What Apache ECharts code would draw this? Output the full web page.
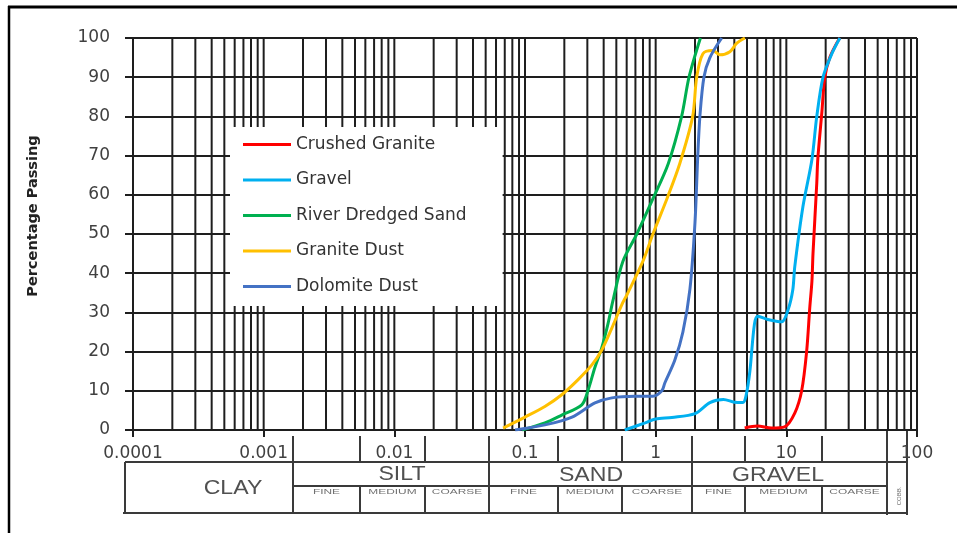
<!DOCTYPE html>
<html>
<head>
<meta charset="utf-8">
<script src="https://cdn.jsdelivr.net/npm/echarts@6/dist/echarts.min.js"></script>
<style>
  html, body { margin: 0; padding: 0; background: #fff; }
  #chart { width: 957px; height: 533px; }
</style>
</head>
<body>
<div id="chart"></div>
<script>
// Particle size distribution curves: [grain size (mm), percentage passing]
const seriesNames = ['Crushed Granite', 'Gravel', 'River Dredged Sand', 'Granite Dust', 'Dolomite Dust'];
const seriesColors = ['#ff0000', '#00b0f0', '#00b050', '#ffc000', '#4472c4'];

const crushedGranite = [[4.8,0.5],[6.0,1.0],[7.7,0.5],[9.7,0.8],[11.6,4.3],[13.1,10],[14.3,20],[15.1,31],[15.7,38],[16.0,45],[17.1,63],[17.4,69],[18.7,81],[19.7,90],[21.5,95],[24.3,98.7],[25.7,100]];
const gravel = [[0.58,0],[0.83,1.8],[1.0,2.8],[1.33,3.2],[2.0,4.2],[2.6,7],[3.3,7.8],[4.0,7.1],[4.65,7.0],[4.9,8.5],[5.26,15],[5.7,27],[6.05,29],[7.2,28.2],[9.2,27.6],[10.3,30.6],[11.2,35.7],[11.6,41.6],[13.4,57],[15.7,69],[17.1,80],[19.1,90],[22.3,96],[25.7,100]];
const riverDredgedSand = [[0.095,0],[0.142,1.8],[0.191,3.8],[0.272,6.4],[0.303,10],[0.343,16],[0.387,21],[0.431,27],[0.471,33],[0.561,43],[0.718,50],[0.953,59],[1.25,68],[1.58,80],[1.8,90],[2.2,100]];
const graniteDust = [[0.068,0.5],[0.1,3.3],[0.142,6],[0.191,9],[0.254,12.8],[0.325,16.6],[0.387,20.4],[0.462,26],[0.551,32],[0.603,34.5],[0.798,43],[0.953,50],[1.22,59],[1.53,68],[1.92,80],[2.06,90],[2.3,96],[2.74,96.8],[3.1,95.7],[3.7,96.5],[4.18,98.7],[4.82,100]];
const dolomiteDust = [[0.084,0],[0.142,1.3],[0.229,3.3],[0.343,6.9],[0.462,8.2],[0.693,8.6],[0.95,8.6],[1.115,10],[1.175,12],[1.40,17.8],[1.616,25],[1.83,36],[2.0,53],[2.1,70],[2.18,80],[2.34,90],[2.6,95],[3.2,100]];

const xTickLabels = ['0.0001', '0.001', '0.01', '0.1', '1', '10', '100'];
const yAxisTitle = 'Percentage Passing';

// Soil classification band under the axis
const mainClasses = ['CLAY', 'SILT', 'SAND', 'GRAVEL'];
const subClasses = ['FINE', 'MEDIUM', 'COARSE'];
const cobbleLabel = 'COBB.';

const allSeries = [crushedGranite, gravel, riverDredgedSand, graniteDust, dolomiteDust];

// Logarithmic grid: 1..9 x each decade from 1e-4 to 100
const gridValues = [];
for (let d = -4; d <= 1; d++) {
  for (let k = 1; k <= 9; k++) gridValues.push(parseFloat((k * Math.pow(10, d)).toPrecision(3)));
}
gridValues.push(100);

const chart = echarts.init(document.getElementById('chart'));

const lineCol = '#1e1e1e';
const tableCol = '#3a3a3a';
const FONT = 'DejaVu Sans';

// Classification table drawing (pixel layout)
const G = [];
function hLine(x1, x2, y) { G.push({ type: 'line', shape: { x1, y1: y, x2, y2: y }, style: { stroke: tableCol, lineWidth: 2 }, silent: true }); }
function vLine(x, y1, y2) { G.push({ type: 'line', shape: { x1: x, y1, x2: x, y2 }, style: { stroke: tableCol, lineWidth: 2 }, silent: true }); }
function label(text, x, y, size, color, sx, rot) {
  G.push({ type: 'text', x, y, scaleX: sx || 1, rotation: rot || 0, silent: true,
    style: { text, fontFamily: 'Liberation Sans', fontSize: size, fill: color, align: 'center', verticalAlign: 'middle' } });
}
// frame
G.push({ type: 'line', shape: { x1: 8, y1: 7, x2: 957, y2: 7 }, style: { stroke: '#000', lineWidth: 3 }, silent: true });
G.push({ type: 'line', shape: { x1: 9, y1: 6, x2: 9, y2: 533 }, style: { stroke: '#000', lineWidth: 2.5 }, silent: true });

hLine(125, 907, 462);
hLine(293, 887, 486);
hLine(123, 907, 513);
vLine(125, 462, 513);
[293, 489, 692].forEach(x => vLine(x, 436, 513));
[887, 907].forEach(x => vLine(x, 430, 515));
[360, 425, 558, 622, 745, 822].forEach(x => { vLine(x, 436, 462); vLine(x, 486, 513); });

label(mainClasses[0], 233, 488, 21, '#505050', 1.1);
label(mainClasses[1], 402, 474, 21, '#505050', 1.1);
label(mainClasses[2], 591, 475, 21, '#505050', 1.1);
label(mainClasses[3], 778, 475, 21, '#505050', 1.1);
const subCells = [[293, 360], [360, 425], [425, 489], [489, 558], [558, 622], [622, 692], [692, 745], [745, 822], [822, 887]];
subCells.forEach((c, i) => label(subClasses[i % 3], (c[0] + c[1]) / 2, 492, 7, '#707070', 1.7));
label(cobbleLabel, 899, 496, 6, '#707070', 1, Math.PI / 2);

// y-axis title
G.push({ type: 'text', x: 33, y: 216, rotation: Math.PI / 2, silent: true,
  style: { text: yAxisTitle, fontFamily: FONT, fontWeight: 'bold', fontSize: 14.5, fill: '#222', align: 'center', verticalAlign: 'middle' } });

const series = allSeries.map((data, i) => ({
  name: seriesNames[i],
  type: 'line',
  data,
  smooth: 0.3,
  showSymbol: false,
  symbol: 'none',
  z: 3,
  lineStyle: { color: seriesColors[i], width: 3 },
  itemStyle: { color: seriesColors[i] }
}));

// vertical log grid lines, placed through the x scale
series.push({
  name: 'grid',
  type: 'custom',
  silent: true,
  z: 1,
  clip: false,
  data: gridValues.map(v => [v, 0]),
  encode: { x: 0, y: 1 },
  renderItem: (params, api) => {
    const v = api.value(0);
    const p0 = api.coord([v, 0]);
    const p1 = api.coord([v, 100]);
    return {
      type: 'line',
      shape: { x1: p0[0], y1: p0[1], x2: p1[0], y2: p1[1] },
      style: { stroke: lineCol, lineWidth: 2 }
    };
  }
});

chart.setOption({
  animation: false,
  grid: { left: 133, right: 40, top: 38, bottom: 103 },
  legend: {
    data: seriesNames,
    orient: 'vertical',
    left: 230,
    top: 127,
    padding: [9, 36, 11, 13],
    backgroundColor: '#ffffff',
    icon: 'rect',
    itemWidth: 48,
    itemHeight: 3,
    itemGap: 18.5,
    z: 4,
    textStyle: { fontFamily: FONT, fontSize: 17, color: '#333' }
  },
  xAxis: {
    type: 'log',
    logBase: 10,
    min: 0.0001,
    max: 100,
    axisLine: { show: true, onZero: false, lineStyle: { color: lineCol, width: 2 } },
    axisTick: { show: true, length: 7, lineStyle: { color: lineCol, width: 2 } },
    splitLine: { show: false },
    axisLabel: {
      margin: 15,
      fontFamily: FONT,
      fontSize: 17,
      color: '#404040',
      formatter: v => xTickLabels[Math.round(Math.log10(v)) + 4]
    }
  },
  yAxis: {
    type: 'value',
    min: 0,
    max: 100,
    interval: 10,
    axisLine: { show: false },
    axisTick: { show: true, length: 8, lineStyle: { color: lineCol, width: 2 } },
    splitLine: { show: true, lineStyle: { color: lineCol, width: 2 } },
    axisLabel: { margin: 23, fontFamily: FONT, fontSize: 17, color: '#404040' }
  },
  graphic: G,
  series
});
</script>
</body>
</html>
